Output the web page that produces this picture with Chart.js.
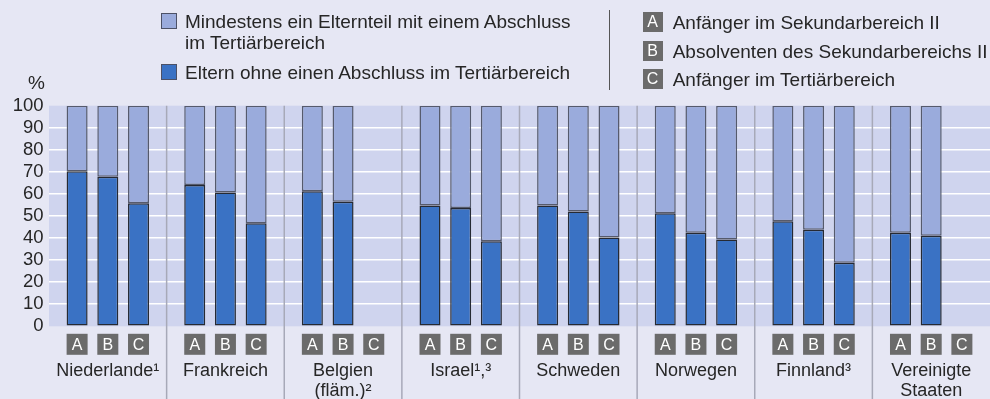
<!DOCTYPE html>
<html lang="de">
<head>
<meta charset="utf-8">
<title>Eltern mit und ohne Abschluss im Tertiärbereich</title>
<script src="https://cdn.jsdelivr.net/npm/chart.js@4.4.1/dist/chart.umd.min.js"></script>
<style>
  html, body { margin: 0; padding: 0; background: #e6e7f4; }
  #wrap { position: relative; width: 990px; height: 399px; overflow: hidden;
          font-family: "Liberation Sans", Arial, sans-serif; color: #262626; }
  #chart { position: absolute; left: 0; top: 0; }
  .sw { position: absolute; box-sizing: border-box; width: 16px; height: 16px; border: 1px solid #4c5166; }
  .txt { position: absolute; font-size: 19px; line-height: 21px; white-space: nowrap; }
  .key { position: absolute; width: 20px; height: 20px; background: #6b6b6b; color: #fff;
         font-size: 16px; line-height: 20px; text-align: center; }
  .sep { position: absolute; left: 608.5px; top: 10px; width: 1.5px; height: 80px; background: #555; }
</style>
</head>
<body>
<div id="wrap">
  <canvas id="chart" width="990" height="399"></canvas>

  <div class="sw" style="left:160.5px; top:12.5px; background:#9aabdc;"></div>
  <div class="txt" style="left:185px; top:10.7px;">Mindestens ein Elternteil mit einem Abschluss<br>im Tertiärbereich</div>
  <div class="sw" style="left:160.5px; top:64px; background:#3a72c4;"></div>
  <div class="txt" style="left:185px; top:61.7px;">Eltern ohne einen Abschluss im Tertiärbereich</div>

  <div class="sep"></div>
  <div class="key" style="left:642.5px; top:11.7px;">A</div>
  <div class="txt" style="left:672.7px; top:11.7px;">Anfänger im Sekundarbereich II</div>
  <div class="key" style="left:642.5px; top:40.5px;">B</div>
  <div class="txt" style="left:672.7px; top:40.5px;">Absolventen des Sekundarbereichs II</div>
  <div class="key" style="left:642.5px; top:68.8px;">C</div>
  <div class="txt" style="left:672.7px; top:68.8px;">Anfänger im Tertiärbereich</div>

  <div class="txt" style="left:28px; top:71.5px;">%</div>
</div>

<script>
// Countries (multi-line labels) and the three education stages per country
const countries = [
  ["Niederlande¹"], ["Frankreich"], ["Belgien", "(fläm.)²"], ["Israel¹,³"],
  ["Schweden"], ["Norwegen"], ["Finnland³"], ["Vereinigte", "Staaten"]
];
const stages = ["A", "B", "C"];

// Share (%) with parents without a tertiary degree
const noTertiaryA = [70.3, 64.0, 61.2, 54.8, 54.8, 51.2, 47.6, 42.4];
const noTertiaryB = [67.8, 60.6, 56.5, 53.6, 52.0, 42.4, 43.8, 41.1];
const noTertiaryC = [55.8, 46.7, null, 38.5, 40.3, 39.4, 28.8, null];

// Share (%) with at least one parent holding a tertiary degree
const tertiaryA = [29.7, 36.0, 38.8, 45.2, 45.2, 48.8, 52.4, 57.6];
const tertiaryB = [32.2, 39.4, 43.5, 46.4, 48.0, 57.6, 56.2, 58.9];
const tertiaryC = [44.2, 53.3, null, 61.5, 59.7, 60.6, 71.2, null];

const yTicks = [0, 10, 20, 30, 40, 50, 60, 70, 80, 90, 100];

const DARK = "#3a72c4";
const LIGHT = "#9aabdc";
const FONT = "'Liberation Sans', Arial, sans-serif";

const lowerSeries = [noTertiaryA, noTertiaryB, noTertiaryC];
const upperSeries = [tertiaryA, tertiaryB, tertiaryC];

const datasets = [];
stages.forEach((st, k) => {
  datasets.push({
    label: "Eltern ohne einen Abschluss im Tertiärbereich (" + st + ")",
    data: lowerSeries[k], stack: st,
    backgroundColor: DARK, borderColor: "#262a33", borderWidth: 1.5, borderSkipped: false
  });
  datasets.push({
    label: "Mindestens ein Elternteil mit einem Abschluss im Tertiärbereich (" + st + ")",
    data: upperSeries[k], stack: st,
    backgroundColor: LIGHT, borderColor: "#555a6c", borderWidth: 1.5, borderSkipped: false
  });
});

// Plot background behind grid and bars
const plotBackground = {
  id: "plotBackground",
  beforeDraw(chart) {
    const { ctx, chartArea: a } = chart;
    ctx.save();
    ctx.fillStyle = "#cfd4ee";
    ctx.fillRect(a.left, a.top, a.right - a.left, a.bottom - a.top);
    ctx.restore();
  }
};

// Vertical separators between countries, running down through the label area
const groupSeparators = {
  id: "groupSeparators",
  beforeDatasetsDraw(chart) {
    const { ctx, chartArea: a, scales: { x } } = chart;
    ctx.save();
    ctx.strokeStyle = "#a7a9b8";
    ctx.lineWidth = 1.5;
    for (let i = 0; i < countries.length - 1; i++) {
      const px = (x.getPixelForValue(i) + x.getPixelForValue(i + 1)) / 2;
      ctx.beginPath();
      ctx.moveTo(px, a.top);
      ctx.lineTo(px, chart.height);
      ctx.stroke();
    }
    ctx.restore();
  }
};

// Grey A/B/C boxes under each bar
const stageBoxes = {
  id: "stageBoxes",
  afterDraw(chart) {
    const { ctx, chartArea: a } = chart;
    ctx.save();
    ctx.font = "16px " + FONT;
    ctx.textAlign = "center";
    ctx.textBaseline = "middle";
    stages.forEach((st, k) => {
      const meta = chart.getDatasetMeta(k * 2);
      meta.data.forEach((bar) => {
        const w = 21, h = 21, top = a.bottom + 7.5;
        ctx.fillStyle = "#6b6b6b";
        ctx.fillRect(bar.x - w / 2, top, w, h);
        ctx.fillStyle = "#ffffff";
        ctx.fillText(st, bar.x, top + h / 2 + 1);
      });
    });
    ctx.restore();
  }
};

new Chart(document.getElementById("chart"), {
  type: "bar",
  data: { labels: countries, datasets },
  options: {
    responsive: false,
    animation: false,
    layout: { padding: { top: 105.7, left: 0, right: 0, bottom: 0 } },
    categoryPercentage: 0.783,
    barPercentage: 0.684,
    plugins: { legend: { display: false }, tooltip: { enabled: false } },
    scales: {
      x: {
        stacked: true,
        offset: true,
        grid: { display: false, drawTicks: false },
        border: { display: false },
        ticks: {
          color: "#262626",
          font: { family: FONT, size: 18, lineHeight: 1.1 },
          padding: 35,
          maxRotation: 0,
          autoSkip: false
        },
        afterFit(scale) {
          scale.height = 72.7;
          scale.paddingLeft = 0;
          scale.paddingRight = 0;
        }
      },
      y: {
        stacked: true,
        min: 0,
        max: 100,
        afterBuildTicks(scale) { scale.ticks = yTicks.map(v => ({ value: v })); },
        grid: {
          drawTicks: false,
          lineWidth: 1.5,
          color: (c) => (c.tick && (c.tick.value === 0 || c.tick.value === 100)) ? "rgba(0,0,0,0)" : "#ffffff"
        },
        border: { display: false },
        ticks: {
          color: "#262626",
          font: { family: FONT, size: 18.5 },
          padding: 5.5,
          autoSkip: false
        },
        afterFit(scale) {
          scale.width = 49;
          scale.paddingTop = 0;
          scale.paddingBottom = 0;
        }
      }
    }
  },
  plugins: [plotBackground, groupSeparators, stageBoxes]
});
</script>
</body>
</html>
